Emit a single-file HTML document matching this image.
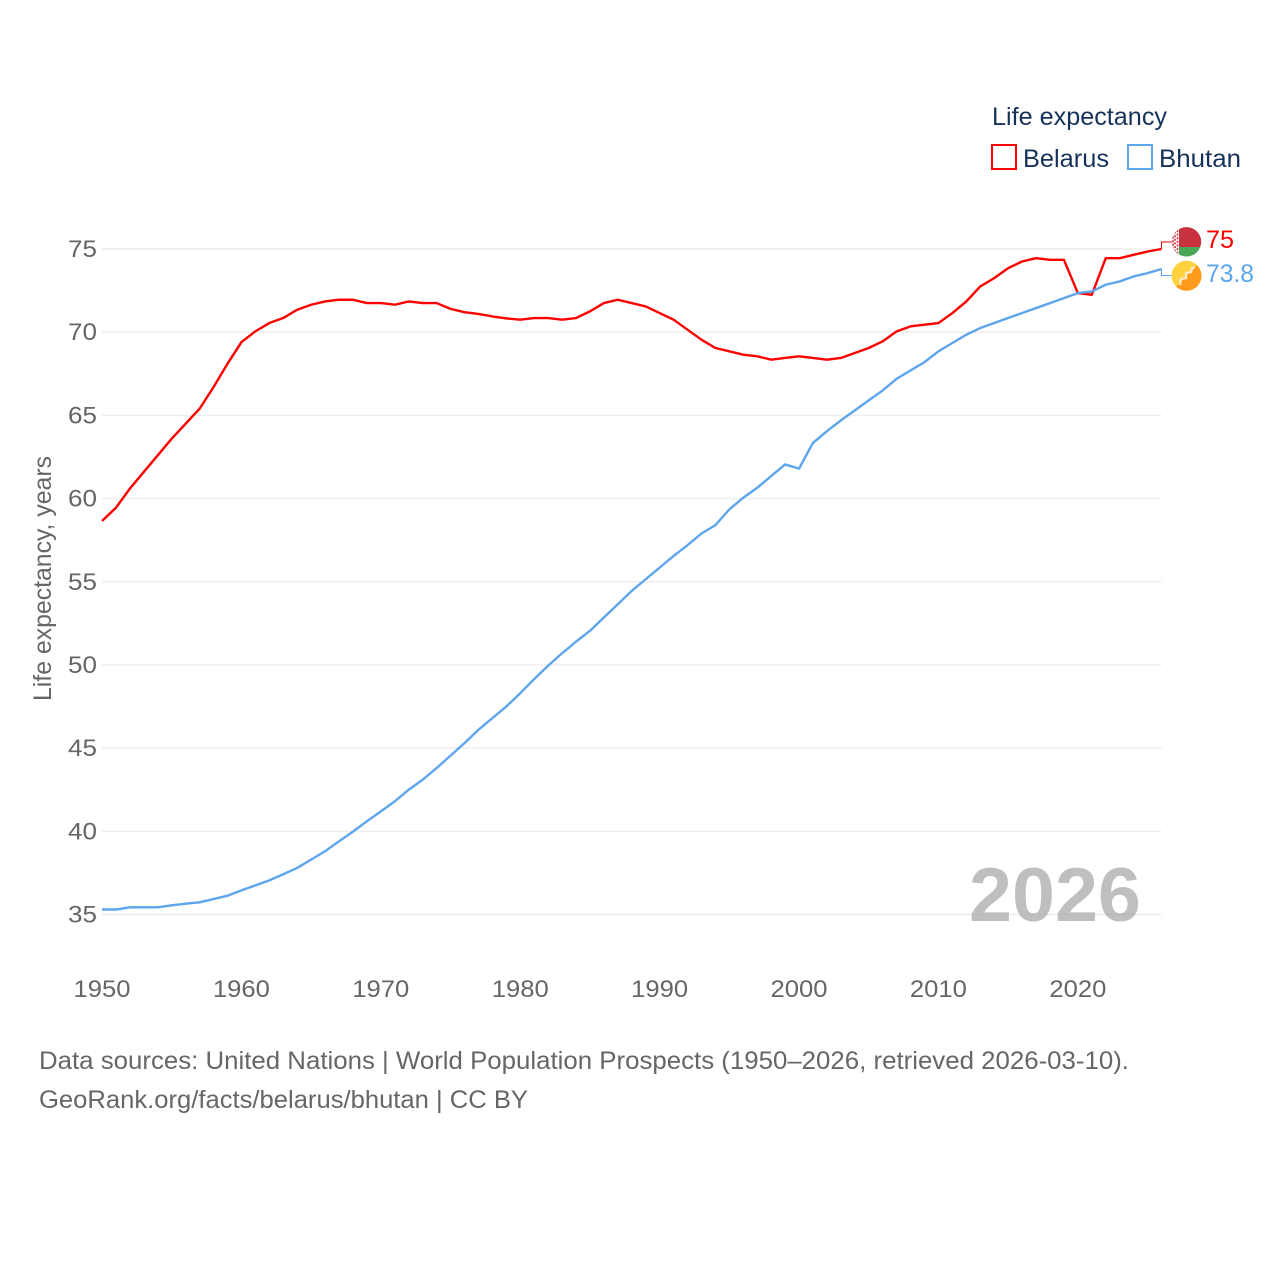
<!DOCTYPE html>
<html lang="en">
<head>
<meta charset="utf-8">
<title>Life expectancy: Belarus and Bhutan</title>
<style>
html,body{margin:0;padding:0;background:#fff;}
svg{display:block;font-family:"Liberation Sans",sans-serif;}
</style>
</head>
<body>
<svg id="chart" xmlns="http://www.w3.org/2000/svg" width="1280" height="1280" viewBox="0 0 1280 1280">
  <rect x="0" y="0" width="1280" height="1280" fill="#fff"/>

  <g id="grid"></g>
  <g id="yticks"></g>
  <g id="xticks"></g>

  <text transform="translate(51,701) rotate(-90)" font-size="25" fill="#666" textLength="245" lengthAdjust="spacingAndGlyphs">Life expectancy, years</text>

  <text x="969" y="921" font-size="76" font-weight="bold" fill="#a6a6a6" fill-opacity="0.72" textLength="172" lengthAdjust="spacingAndGlyphs">2026</text>

  <g id="series"></g>

  <g>
    <clipPath id="clip-by"><circle cx="1186.5" cy="241.8" r="14.7"/></clipPath>
    <g clip-path="url(#clip-by)">
      <rect x="1171" y="227" width="31" height="20" fill="#c8313e"/>
      <rect x="1171" y="247" width="31" height="11" fill="#4aa657"/>
      <rect x="1171" y="227" width="8" height="31" fill="#fff"/>
      <path d="M1175 228v28M1177.5 230v24M1173 233v18" stroke="#c8313e" stroke-width="1.6" stroke-dasharray="2 1.6" fill="none"/>
    </g>
  </g>
  <g>
    <clipPath id="clip-bt"><circle cx="1186.5" cy="275.8" r="15"/></clipPath>
    <g clip-path="url(#clip-bt)">
      <rect x="1171" y="260" width="31" height="32" fill="#ffd13f"/>
      <path d="M1202 260V292H1171Z" fill="#ff9a1c"/>
      <path d="M1180 285l1-6 5-1 0-5 5-1 1-4 3-1" fill="none" stroke="#fbe9c8" stroke-width="2.4"/>
    </g>
  </g>

  <text x="1206" y="248" font-size="25" fill="#ff0000" textLength="28" lengthAdjust="spacingAndGlyphs">75</text>
  <text x="1206" y="282" font-size="25" fill="#5da5ec" textLength="48" lengthAdjust="spacingAndGlyphs">73.8</text>

  <g>
    <text x="992" y="125" font-size="25" fill="#17325a" textLength="175" lengthAdjust="spacingAndGlyphs">Life expectancy</text>
    <g>
      <rect x="992" y="145" width="24" height="24" fill="#fff" stroke="#ff0000" stroke-width="2"/>
      <text x="1023" y="167" font-size="25" fill="#17325a" textLength="86" lengthAdjust="spacingAndGlyphs">Belarus</text>
    </g>
    <g>
      <rect x="1128" y="145" width="24" height="24" fill="#fff" stroke="#5da5ec" stroke-width="2"/>
      <text x="1159" y="167" font-size="25" fill="#17325a" textLength="82" lengthAdjust="spacingAndGlyphs">Bhutan</text>
    </g>
  </g>

  <g>
    <text x="39" y="1069" font-size="25" fill="#666" textLength="1090" lengthAdjust="spacingAndGlyphs">Data sources: United Nations | World Population Prospects (1950–2026, retrieved 2026-03-10).</text>
    <text x="39" y="1108" font-size="25" fill="#666" textLength="489" lengthAdjust="spacingAndGlyphs">GeoRank.org/facts/belarus/bhutan | CC BY</text>
  </g>
</svg>
<script>
const startYear = 1950;
const endYear = 2026;
const yTickValues = [35, 40, 45, 50, 55, 60, 65, 70, 75];
const xTickValues = [1950, 1960, 1970, 1980, 1990, 2000, 2010, 2020];
const belarusValues = [
  58.65, 59.45, 60.6, 61.6, 62.6, 63.6, 64.5, 65.4, 66.7, 68.1,
  69.4, 70.05, 70.55, 70.85, 71.35, 71.65, 71.85, 71.95, 71.95, 71.75,
  71.75, 71.65, 71.85, 71.75, 71.75, 71.4, 71.2, 71.1, 70.95, 70.83,
  70.75, 70.85, 70.85, 70.75, 70.85, 71.25, 71.75, 71.95, 71.75, 71.55,
  71.15, 70.75, 70.15, 69.55, 69.05, 68.85, 68.65, 68.55, 68.35, 68.45,
  68.55, 68.45, 68.35, 68.45, 68.75, 69.05, 69.45, 70.05, 70.35, 70.45,
  70.55, 71.15, 71.85, 72.75, 73.25, 73.85, 74.25, 74.45, 74.35, 74.35,
  72.35, 72.25, 74.45, 74.45, 74.65, 74.85, 75
];
const bhutanValues = [
  35.3, 35.3, 35.43, 35.43, 35.43, 35.55, 35.65, 35.73, 35.93, 36.13,
  36.45, 36.75, 37.05, 37.42, 37.8, 38.3, 38.8, 39.4, 39.98, 40.6,
  41.2, 41.8, 42.5, 43.1, 43.8, 44.55, 45.3, 46.1, 46.8, 47.5,
  48.3, 49.15, 49.95, 50.7, 51.4, 52.05, 52.85, 53.65, 54.45, 55.15,
  55.85, 56.55, 57.2, 57.9, 58.4, 59.35, 60.05, 60.65, 61.35, 62.05,
  61.8, 63.35, 64.05, 64.7, 65.3, 65.9, 66.5, 67.2, 67.7, 68.2,
  68.85, 69.35, 69.85, 70.25, 70.55, 70.85, 71.15, 71.45, 71.75, 72.05,
  72.35, 72.45, 72.85, 73.05, 73.35, 73.55, 73.8
];

const NS = 'http://www.w3.org/2000/svg';
const plotLeft = 102, plotRight = 1161.5;
const yAt35 = 914.5, yAt75 = 249;

function xScale(year) {
  return plotLeft + (year - startYear) / (endYear - startYear) * (plotRight - plotLeft);
}
function yScale(value) {
  return yAt35 + (value - 35) / (75 - 35) * (yAt75 - yAt35);
}
function make(tag, parentId) {
  const el = document.createElementNS(NS, tag);
  document.getElementById(parentId).appendChild(el);
  return el;
}

yTickValues.forEach(function (v) {
  const line = make('line', 'grid');
  
  
  line.setAttribute('x1', plotLeft);
  line.setAttribute('x2', plotRight);
  line.setAttribute('y1', yScale(v));
  line.setAttribute('y2', yScale(v));
  line.setAttribute('stroke', '#eeeeee');
  line.setAttribute('stroke-width', '1.4');

  const label = make('text', 'yticks');
  
  
  label.setAttribute('x', 68);
  label.setAttribute('y', yScale(v) + 8);
  label.setAttribute('font-size', '24.5');
  label.setAttribute('fill', '#666');
  label.setAttribute('textLength', '29');
  label.setAttribute('lengthAdjust', 'spacingAndGlyphs');
  label.textContent = v;
});

xTickValues.forEach(function (year) {
  const label = make('text', 'xticks');
  
  
  label.setAttribute('x', xScale(year) - 28.5);
  label.setAttribute('y', 997);
  label.setAttribute('font-size', '24.5');
  label.setAttribute('fill', '#666');
  label.setAttribute('textLength', '57');
  label.setAttribute('lengthAdjust', 'spacingAndGlyphs');
  label.textContent = year;
});

function linePath(values) {
  return values.map(function (v, i) {
    return (i ? 'L' : 'M') + xScale(startYear + i).toFixed(2) + ' ' + yScale(v).toFixed(2);
  }).join(' ');
}
function connectorPath(values, labelY) {
  const last = values[values.length - 1];
  return 'M' + plotRight + ' ' + yScale(last).toFixed(2) + ' V' + labelY + ' H1172';
}

const belarusLine = make('path', 'series');


belarusLine.setAttribute('d', linePath(belarusValues));
belarusLine.setAttribute('fill', 'none');
belarusLine.setAttribute('stroke', '#ff0000');
belarusLine.setAttribute('stroke-width', '2.4');
belarusLine.setAttribute('stroke-linejoin', 'round');

const belarusConnector = make('path', 'series');


belarusConnector.setAttribute('d', connectorPath(belarusValues, 242));
belarusConnector.setAttribute('fill', 'none');
belarusConnector.setAttribute('stroke', '#ff0000');
belarusConnector.setAttribute('stroke-width', '1');

const bhutanLine = make('path', 'series');


bhutanLine.setAttribute('d', linePath(bhutanValues));
bhutanLine.setAttribute('fill', 'none');
bhutanLine.setAttribute('stroke', '#5da5ec');
bhutanLine.setAttribute('stroke-width', '2.4');
bhutanLine.setAttribute('stroke-linejoin', 'round');

const bhutanConnector = make('path', 'series');


bhutanConnector.setAttribute('d', connectorPath(bhutanValues, 275.5));
bhutanConnector.setAttribute('fill', 'none');
bhutanConnector.setAttribute('stroke', '#5da5ec');
bhutanConnector.setAttribute('stroke-width', '1');
</script>
</body>
</html>
